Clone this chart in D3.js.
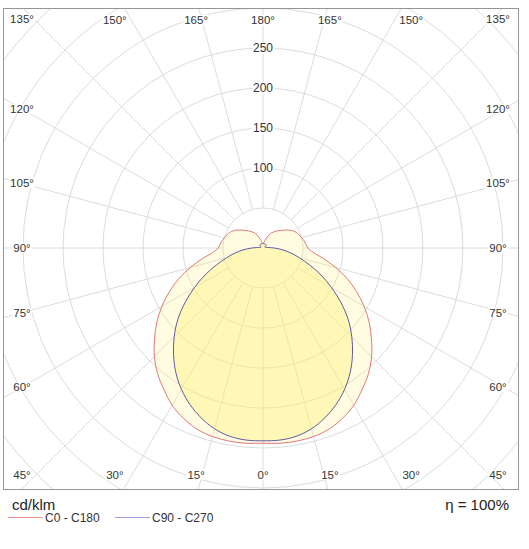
<!DOCTYPE html>
<html>
<head>
<meta charset="utf-8">
<script src="https://cdn.jsdelivr.net/npm/d3@7"></script>
<style>
  html, body { margin: 0; padding: 0; background: #fff; }
  svg { display: block; font-family: "Liberation Sans", Arial, sans-serif; }
</style>
</head>
<body>
<svg id="chart" width="529" height="549"></svg>
<script>
// ---- data (cd/klm) ----
const gammas = d3.range(0, 181, 5);
const c0c180 = [244, 245, 245, 244, 241, 235, 227, 216, 205, 192, 177, 162, 146, 129, 112, 94, 77, 63, 56,
                54, 52, 50, 48, 46, 43, 39, 35, 31, 28, 25, 22, 18, 14, 10, 7, 6, 6];
const c90c270 = [241, 241, 239, 234, 226, 216, 204, 190, 174, 157, 139, 119, 99, 80, 62, 47, 35, 24, 14,
                 7, 4, 3, 3, 3, 3, 3, 5, 5.5, 5.5, 5.5, 5.5, 5.5, 5.5, 5.5, 5.5, 5.5, 5.5];
const ringValues = [50, 100, 150, 200, 250, 300, 350, 400, 450];
const ringLabels = [100, 150, 200, 250];
const angleTicks = d3.range(0, 360, 15);
const seriesNames = ["C0 - C180", "C90 - C270"];
const efficiency = "η = 100%";
const unit = "cd/klm";

// ---- layout ----
const svg = d3.select("#chart");
const frame = { x0: 3, y0: 8, x1: 518, y1: 489 };
const cx = 263, cy = 248;
const r = d3.scaleLinear().domain([0, 300]).range([0, 240]);

svg.append("defs").append("clipPath").attr("id", "clip")
  .append("rect").attr("x", frame.x0).attr("y", frame.y0)
  .attr("width", frame.x1 - frame.x0).attr("height", frame.y1 - frame.y0);

const g = svg.append("g").attr("clip-path", "url(#clip)");
const root = g.append("g").attr("transform", `translate(${cx},${cy})`);

// grid rings
root.selectAll("circle.ring").data(ringValues).join("circle")
  .attr("class", "ring").attr("r", d => r(d))
  .attr("fill", "none").attr("stroke", "#dcdcdc").attr("stroke-width", 1);

// radial lines (angle measured from nadir), start at ring 50
root.selectAll("line.spoke").data(angleTicks).join("line")
  .attr("class", "spoke")
  .attr("x1", d => r(50) * Math.sin(d * Math.PI / 180))
  .attr("y1", d => r(50) * Math.cos(d * Math.PI / 180))
  .attr("x2", d => r(600) * Math.sin(d * Math.PI / 180))
  .attr("y2", d => r(600) * Math.cos(d * Math.PI / 180))
  .attr("stroke", "#dcdcdc").attr("stroke-width", 1);

// polar curves
function fullCurve(vals) {
  const pts = [];
  for (let i = gammas.length - 1; i >= 0; i--) pts.push([Math.PI + gammas[i] * Math.PI / 180, r(vals[i])]);
  for (let i = 1; i < gammas.length - 1; i++) pts.push([Math.PI - gammas[i] * Math.PI / 180, r(vals[i])]);
  return pts;
}
const radial = d3.lineRadial().angle(d => d[0]).radius(d => d[1]).curve(d3.curveCatmullRomClosed.alpha(0.5));

root.append("path").attr("d", radial(fullCurve(c0c180)))
  .attr("fill", "rgba(255,240,110,0.2)").attr("stroke", "none");
root.append("path").attr("d", radial(fullCurve(c90c270)))
  .attr("fill", "rgba(255,240,110,0.38)").attr("stroke", "none");
root.append("path").attr("d", radial(fullCurve(c0c180)))
  .attr("fill", "none").attr("stroke", "#e07878").attr("stroke-width", 1);
root.append("path").attr("d", radial(fullCurve(c90c270)))
  .attr("fill", "none").attr("stroke", "#5e5aa4").attr("stroke-width", 1);

// label helper with white background
function bgLabel(parent, x, y, text, size) {
  const t = parent.append("text").attr("x", x).attr("y", y)
    .attr("text-anchor", "middle").attr("dominant-baseline", "central")
    .attr("font-size", size).attr("fill", "#333").text(text);
  const b = t.node().getBBox();
  parent.insert("rect", () => t.node())
    .attr("x", b.x - 1).attr("y", b.y + 1).attr("width", b.width + 2).attr("height", b.height - 2)
    .attr("fill", "#fff");
}

// ring value labels
const labG = svg.append("g");
ringLabels.forEach(v => bgLabel(labG, cx, cy - r(v), String(v), 12));

// angle labels around frame
const leftX = cx - 241, rightX = cx + 235, topY = cy - 228, botY = cy + 227;
angleTicks.forEach(a => {
  const rad = a * Math.PI / 180;
  const sx = Math.sin(rad), cz = Math.cos(rad);
  const dispAngle = a <= 180 ? a : 360 - a;
  const diag = Math.abs(Math.abs(cz) - Math.SQRT1_2) < 1e-6;
  let x, y;
  if (diag) {
    x = sx > 0 ? rightX : leftX;
    y = cz > 0 ? botY : topY - 1;
  } else if (Math.abs(cz) < Math.SQRT1_2) {
    x = sx > 0 ? rightX : leftX;
    y = cy + 241 * cz / Math.abs(sx);
  } else {
    const t = Math.abs(sx / cz);
    const off = Math.atan(t);
    y = cz > 0 ? botY : topY;
    x = cx + Math.sign(sx) * 240 * t * (1 + 0.08 * Math.sin(2 * off));
  }
  bgLabel(labG, x, y, dispAngle + "°", 11.5);
});

// frame
svg.append("rect").attr("x", frame.x0 + 0.5).attr("y", frame.y0 + 0.5)
  .attr("width", frame.x1 - frame.x0).attr("height", frame.y1 - frame.y0)
  .attr("fill", "none").attr("stroke", "#959595").attr("stroke-width", 1);

// footer texts
svg.append("text").attr("x", 12).attr("y", 510).attr("font-size", 15).attr("fill", "#222").text(unit);
svg.append("text").attr("x", 509).attr("y", 510).attr("text-anchor", "end")
  .attr("font-size", 15).attr("fill", "#222").text(efficiency);

// legend
const legColors = ["#f09494", "#9a9ee6"];
const legX = [8, 115];
seriesNames.forEach((n, i) => {
  svg.append("line").attr("x1", legX[i]).attr("x2", legX[i] + 35)
    .attr("y1", 517.5).attr("y2", 517.5).attr("stroke", legColors[i]).attr("stroke-width", 1);
  svg.append("text").attr("x", legX[i] + 37).attr("y", 518).attr("dominant-baseline", "central")
    .attr("font-size", 12).attr("fill", "#333").text(n);
});
</script>
</body>
</html>
